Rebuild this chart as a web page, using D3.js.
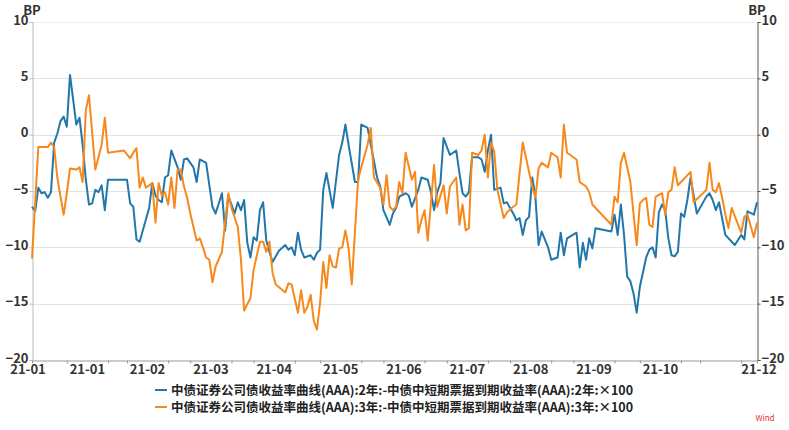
<!DOCTYPE html>
<html>
<head>
<meta charset="utf-8">
<script src="https://cdn.jsdelivr.net/npm/d3@7"></script>
<style>
  body { margin: 0; background: #fff; }
  text { font-family: "Noto Sans CJK SC", "Noto Sans", sans-serif; }
</style>
</head>
<body>
<div id="chart"></div>
<script>
// [trading day index, BP]
var spread2y = [[0,-6.4],[1,-6.8],[2,-4.7],[3,-5.2],[4,-5.1],[5,-5.6],[6,-5.1],[7,-0.7],[8,0.1],[9,1.2],[10,1.6],[11,0.7],[12,5.3],[13,3.1],[14,0.9],[15,1.5],[16,-0.9],[17,-4.0],[18,-6.2],[19,-6.1],[20,-4.9],[21,-5.1],[22,-4.5],[23,-6.7],[24,-4.0],[30,-4.0],[31,-6.1],[32,-6.4],[33,-9.3],[34,-9.5],[37,-6.5],[38,-4.3],[39,-5.4],[40,-5.8],[41,-6.0],[42,-3.8],[43,-3.6],[44,-1.4],[46,-2.9],[47,-4.0],[48,-2.2],[49,-2.1],[51,-2.9],[52,-4.2],[53,-2.2],[55,-2.5],[57,-6.4],[58,-7.0],[60,-5.2],[61,-8.5],[62,-5.4],[64,-7.0],[65,-6.0],[66,-6.7],[67,-5.8],[68,-9.6],[69,-10.9],[70,-9.1],[71,-9.4],[72,-6.7],[73,-6.0],[74,-9.4],[75,-10.4],[76,-11.3],[78,-10.3],[80,-9.8],[81,-10.2],[82,-10.0],[83,-10.7],[84,-8.7],[85,-10.2],[86,-10.9],[88,-10.7],[89,-11.1],[90,-10.5],[91,-10.2],[92,-4.9],[93,-3.4],[95,-6.5],[97,-1.8],[98,-0.7],[99,0.9],[100,-0.9],[102,-4.2],[103,-4.2],[104,0.9],[106,0.6],[109,-3.8],[110,-4.6],[111,-6.7],[113,-8.0],[114,-7.0],[115,-6.5],[116,-5.5],[118,-5.2],[119,-5.4],[120,-6.4],[122,-4.9],[123,-3.8],[125,-4.0],[126,-5.1],[127,-6.7],[128,-5.1],[129,-4.3],[130,-0.3],[132,-1.8],[134,-1.4],[135,-3.4],[136,-5.2],[137,-5.5],[138,-5.1],[139,-2.0],[141,-2.0],[142,-2.2],[143,-3.3],[144,-1.4],[145,0.0],[146,-4.9],[148,-4.7],[149,-6.1],[150,-6.0],[152,-7.0],[153,-7.6],[154,-7.4],[155,-8.9],[156,-7.6],[157,-7.3],[158,-3.8],[159,-5.5],[160,-9.8],[161,-8.6],[163,-10.0],[164,-11.1],[166,-10.9],[167,-8.7],[168,-10.7],[169,-9.2],[172,-8.7],[173,-11.8],[174,-9.6],[175,-11.1],[176,-9.2],[177,-10.1],[178,-8.3],[183,-8.6],[184,-7.1],[185,-8.9],[186,-6.2],[187,-8.9],[188,-12.6],[189,-13.0],[190,-14.1],[191,-15.8],[192,-13.5],[194,-10.9],[195,-10.2],[196,-10.0],[197,-10.9],[198,-6.9],[199,-6.2],[200,-6.7],[201,-9.2],[202,-10.7],[203,-10.8],[204,-10.4],[205,-7.0],[206,-7.3],[207,-5.8],[208,-3.8],[210,-7.0],[213,-5.5],[214,-5.2],[215,-5.8],[216,-6.7],[217,-6.0],[219,-8.9],[221,-9.5],[222,-9.8],[224,-8.9],[225,-9.3],[226,-6.8],[228,-7.1],[229,-6.0]]

var spread3y = [[0,-11.0],[2,-1.1],[5,-1.1],[6,-0.7],[7,-1.1],[8,-3.8],[9,-5.5],[10,-7.1],[11,-5.2],[12,-3.0],[14,-3.1],[15,-2.9],[16,-4.2],[17,2.2],[18,3.5],[20,-3.1],[21,-2.0],[22,-0.9],[23,1.5],[24,-1.6],[29,-1.4],[31,-2.1],[32,-1.6],[33,-1.2],[34,-4.7],[35,-3.8],[36,-4.7],[38,-4.3],[39,-7.8],[40,-4.3],[41,-5.4],[42,-5.1],[43,-6.2],[44,-3.8],[45,-6.5],[46,-3.1],[47,-3.1],[48,-4.6],[49,-5.6],[50,-7.0],[51,-8.2],[52,-9.4],[53,-9.2],[54,-10.0],[55,-10.9],[56,-11.1],[57,-13.1],[58,-11.7],[60,-10.4],[62,-5.2],[63,-6.5],[65,-8.2],[66,-11.1],[67,-15.6],[69,-14.5],[70,-12.0],[72,-9.5],[73,-9.5],[74,-10.4],[75,-9.5],[76,-12.3],[77,-13.3],[80,-14.0],[81,-13.2],[82,-13.3],[84,-15.8],[85,-13.8],[86,-15.8],[87,-15.3],[88,-14.2],[89,-16.5],[90,-17.3],[91,-14.9],[92,-11.3],[93,-13.6],[94,-10.7],[95,-11.7],[96,-11.8],[97,-10.1],[98,-10.0],[99,-8.5],[100,-10.1],[101,-13.3],[103,-4.0],[104,-2.9],[106,-0.9],[107,0.6],[108,-3.8],[110,-4.7],[111,-6.2],[112,-3.6],[113,-6.4],[114,-6.7],[115,-6.4],[116,-4.2],[117,-5.2],[118,-1.6],[120,-4.0],[121,-3.3],[122,-8.7],[123,-7.6],[124,-6.7],[125,-9.4],[127,-2.7],[128,-6.4],[130,-4.5],[131,-7.0],[132,-4.6],[134,-3.8],[135,-8.0],[136,-6.2],[137,-8.5],[138,-8.3],[139,-1.6],[141,-1.8],[142,-1.4],[143,0.0],[144,-3.8],[145,-0.7],[146,-1.5],[147,-4.9],[149,-7.4],[150,-6.9],[152,-6.4],[153,-6.2],[155,-0.7],[157,-3.3],[158,-4.6],[159,-5.6],[160,-3.0],[161,-2.5],[163,-2.9],[164,-1.6],[166,-2.0],[167,-3.8],[168,0.9],[169,-1.6],[172,-2.2],[173,-4.2],[175,-4.6],[176,-5.1],[177,-6.2],[183,-8.0],[184,-5.5],[185,-6.0],[186,-2.5],[187,-1.6],[189,-4.2],[191,-9.8],[192,-6.1],[193,-5.8],[194,-5.6],[195,-8.0],[196,-8.2],[197,-5.5],[199,-5.2],[200,-7.1],[201,-5.1],[202,-4.9],[203,-2.9],[204,-4.5],[205,-4.2],[208,-3.3],[209,-6.0],[213,-4.9],[214,-2.5],[215,-4.9],[216,-5.1],[217,-4.3],[218,-5.6],[219,-7.1],[220,-8.3],[221,-6.5],[224,-8.7],[225,-7.3],[226,-7.1],[228,-9.1],[229,-7.8]]

var seriesNames = ['中债证券公司债收益率曲线(AAA):2年:-中债中短期票据到期收益率(AAA):2年:×100',
                   '中债证券公司债收益率曲线(AAA):3年:-中债中短期票据到期收益率(AAA):3年:×100']
var seriesColors = ['#2277aa', '#f7891c']

// x axis: label ticks (trading day index) and the tick closing each label slot
var labelTicks = [11, 30, 50, 70, 91, 111, 131, 151, 171, 192]
var slotEnds   = [24, 43, 63, 83, 104, 124, 144, 164, 184, 205]
var tickLabels = ['21-01', '21-02', '21-03', '21-04', '21-05', '21-06', '21-07', '21-08', '21-09', '21-10']
var firstLabel = '21-01', lastLabel = '21-12'
var lastDay = 229
var yTicks = [-20, -15, -10, -5, 0, 5, 10]

var W = 789, H = 430
var plotL = 32, plotR = 757, plotT = 22, plotB = 360

var svg = d3.select('#chart').append('svg')
    .attr('width', W)
    .attr('height', H)

var xScale = d3.scaleLinear().domain([0, lastDay]).range([plotL, plotR])
var yScale = d3.scaleLinear().domain([-20, 10]).range([plotB, plotT])

// grid
svg.append('g')
  .selectAll('line')
    .data(yTicks.filter(function (d) { return d > -20 }))
    .enter()
  .append('line')
    .attr('x1', plotL).attr('x2', plotR)
    .attr('y1', function (d) { return Math.round(yScale(d)) + 0.5 })
    .attr('y2', function (d) { return Math.round(yScale(d)) + 0.5 })
    .attr('stroke', function (d) { return d == 10 ? '#f0f0f0' : '#e3e3e3' })
    .attr('stroke-width', 1)

// left axis
var yAxisL = d3.axisLeft(yScale).tickValues(yTicks).tickSize(3).tickPadding(1)
var gL = svg.append('g')
    .attr('transform', 'translate(' + (plotL + 0.5) + ',0)')
    .call(yAxisL)
gL.select('.domain').attr('stroke', '#bbbbbb')
gL.selectAll('.tick line').attr('stroke', '#bbbbbb')

// right axis
var yAxisR = d3.axisRight(yScale).tickValues(yTicks).tickSize(3).tickPadding(1)
var gR = svg.append('g')
    .attr('transform', 'translate(' + (plotR + 0.5) + ',0)')
    .call(yAxisR)
gR.select('.domain').attr('stroke', '#555555')
gR.selectAll('.tick line').attr('stroke', '#555555')

svg.selectAll('.tick text')
    .attr('fill', '#333')
    .attr('y', -2)
    .style('font-size', '13px')
    .style('font-weight', 'bold')

// bottom axis
var allTicks = [0].concat(labelTicks, slotEnds, [211, 224, lastDay])
var xAxis = d3.axisBottom(xScale).tickValues(allTicks).tickFormat('').tickSize(3).tickSizeOuter(0)
var gX = svg.append('g')
    .attr('transform', 'translate(0,' + (plotB + 0.5) + ')')
    .call(xAxis)
gX.select('.domain').attr('stroke', '#999999')
gX.selectAll('.tick line').attr('stroke', '#999999')

var xLabels = [{ t: firstLabel, x: xScale(0) - 4 }]
tickLabels.forEach(function (t, i) {
  xLabels.push({ t: t, x: (xScale(labelTicks[i]) + xScale(slotEnds[i])) / 2 })
})
xLabels.push({ t: lastLabel, x: xScale(lastDay) + 2 })

svg.append('g')
  .selectAll('text')
    .data(xLabels)
    .enter()
  .append('text')
    .attr('x', function (d) { return d.x })
    .attr('y', plotB + 14)
    .attr('text-anchor', 'middle')
    .attr('fill', '#333')
    .style('font-size', '13px')
    .style('font-weight', 'bold')
    .text(function (d) { return d.t })

// unit labels
svg.append('text')
    .attr('x', plotL).attr('y', 15)
    .attr('text-anchor', 'middle')
    .attr('fill', '#333')
    .style('font-size', '13px').style('font-weight', 'bold')
    .text('BP')
svg.append('text')
    .attr('x', plotR).attr('y', 15)
    .attr('text-anchor', 'middle')
    .attr('fill', '#333')
    .style('font-size', '13px').style('font-weight', 'bold')
    .text('BP')

// lines
var line = d3.line()
    .x(function (d) { return xScale(d[0]) })
    .y(function (d) { return yScale(d[1]) })

;[spread2y, spread3y].forEach(function (s, i) {
  svg.append('path')
      .datum(s)
      .attr('d', line)
      .attr('fill', 'none')
      .attr('stroke', seriesColors[i])
      .attr('stroke-width', 2)
      .attr('stroke-linejoin', 'round')
})

// legend
var legend = svg.append('g')
  .selectAll('g')
    .data(seriesNames)
    .enter()
  .append('g')
    .attr('transform', function (d, i) { return 'translate(155,' + (390 + i * 17) + ')' })
legend.append('line')
    .attr('x1', 0).attr('x2', 12)
    .attr('stroke', function (d, i) { return seriesColors[i] })
    .attr('stroke-width', 2)
legend.append('text')
    .attr('x', 16).attr('y', 4.5)
    .attr('fill', '#222')
    .style('font-size', '12.5px')
    .style('font-weight', 'bold')
    .text(function (d) { return d })

svg.append('text')
    .attr('x', 765).attr('y', 421)
    .attr('text-anchor', 'middle')
    .attr('fill', '#e03030')
    .style('font-size', '8px')
    .text('Wind')
</script>
</body>
</html>
